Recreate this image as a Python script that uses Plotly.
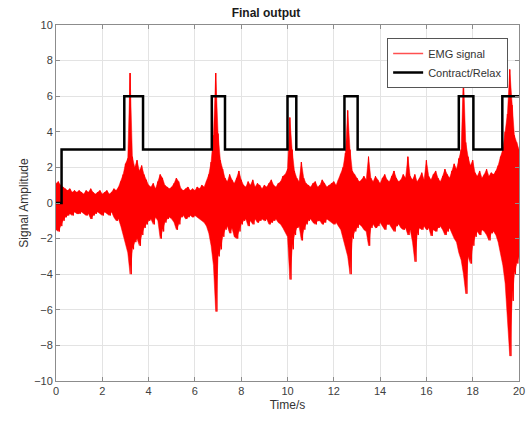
import plotly.graph_objects as go

# ---------------- data ----------------
# EMG envelope sampled every 0.1 s (t = 0.0 ... 20.0)
emg_t0 = 0.0
emg_dt = 0.1
emg_upper = [
    1.1, 1.2, 1.0,
    0.9, 0.8, 0.7, 0.8, 0.6, 0.7, 0.6, 0.7,
    0.6, 0.5, 0.7, 0.6, 0.8, 0.6, 0.5, 0.6, 0.7, 0.5,
    0.6, 0.7, 0.5, 0.6, 0.8, 0.7, 0.9, 1.2, 1.6,
    2.2, 2.5, 7.3, 2.6, 2.0, 2.4, 1.8, 2.1, 1.6, 1.3,
    1.0, 0.9, 1.1, 0.8, 1.2, 1.6, 1.4, 1.0, 0.9, 0.8,
    0.9, 1.1, 1.4, 1.2, 0.8, 0.7, 0.8, 0.9, 0.7, 0.8,
    0.7, 0.9, 0.8, 1.0, 0.9, 1.2, 1.6, 2.3, 3.8, 7.3,
    3.9, 2.4, 1.9, 1.4, 1.2, 1.6, 1.3, 1.1, 1.4, 1.8,
    1.3, 1.0, 0.9, 1.2, 1.0, 1.3, 0.9, 1.1, 1.0, 0.8,
    1.0, 0.9, 1.1, 1.3, 1.0, 0.9, 1.1, 1.2, 1.5, 1.6,
    1.9, 4.8, 3.0, 1.8, 1.4, 1.2, 2.3, 1.4, 1.1, 1.0,
    0.9, 1.1, 1.2, 0.9, 1.0, 1.3, 1.1, 0.9, 1.0, 1.1,
    1.2, 1.0, 1.3, 1.6, 2.0, 2.8, 5.2, 3.0, 1.8, 1.6,
    1.4, 1.2, 1.3, 1.5, 1.3, 2.6, 1.4, 1.2, 1.5, 1.3,
    1.1, 1.4, 1.6, 1.3, 1.2, 1.5, 1.8, 1.4, 1.2, 1.3,
    1.6, 1.4, 2.6, 1.5, 1.3, 1.6, 1.2, 1.4, 1.7, 1.3,
    2.4, 1.5, 1.3, 1.6, 1.8, 1.4, 1.2, 1.5, 1.9, 1.6,
    1.4, 1.8, 2.2, 1.9, 2.5, 3.0, 7.2, 3.4, 2.6, 2.1,
    2.4, 1.7, 1.5, 1.8, 1.4, 1.6, 1.9, 1.5, 1.7, 1.6,
    1.8, 2.1, 2.6, 3.0, 4.0, 5.0, 7.5, 5.5, 3.8, 3.4,
    3.0,
]
emg_lower = [
    -1.5, -1.6, -1.3,
    -1.0, -0.8, -0.7, -0.6, -0.7, -0.5, -0.6, -0.6,
    -0.5, -0.6, -0.7, -0.6, -0.9, -0.7, -0.6, -0.5, -0.6, -0.7,
    -0.5, -0.6, -0.7, -0.5, -0.8, -1.0, -0.9, -1.3, -1.8,
    -2.2, -2.8, -4.0, -2.6, -2.2, -2.0, -2.4, -1.8, -1.4, -1.2,
    -1.0, -0.9, -1.2, -0.8, -1.0, -2.0, -1.6, -1.1, -0.9, -0.8,
    -0.9, -1.1, -1.5, -1.2, -0.8, -0.7, -0.9, -0.8, -0.7, -0.8,
    -0.7, -0.8, -0.9, -1.0, -1.1, -1.3, -1.7, -2.4, -3.5, -6.1,
    -3.0, -2.6, -1.9, -1.5, -1.3, -1.7, -1.4, -1.9, -2.0, -1.6,
    -1.2, -1.0, -0.9, -1.3, -1.0, -1.2, -0.9, -1.1, -1.0, -0.9,
    -1.0, -0.9, -1.2, -1.1, -1.0, -0.9, -1.1, -1.2, -1.4, -1.6,
    -1.9, -4.3, -2.6, -1.8, -1.4, -1.3, -2.1, -1.5, -1.2, -1.0,
    -0.9, -1.1, -1.2, -1.0, -1.0, -1.2, -1.1, -0.9, -1.0, -1.1,
    -1.2, -1.1, -1.3, -1.5, -1.9, -2.5, -3.0, -4.0, -2.0, -1.6,
    -1.4, -1.2, -1.3, -1.5, -1.6, -2.4, -1.4, -1.2, -1.4, -1.3,
    -1.1, -1.3, -1.5, -1.2, -1.2, -1.4, -1.6, -1.3, -1.2, -1.4,
    -1.5, -1.4, -1.8, -1.5, -2.2, -3.3, -1.8, -1.4, -1.5, -1.3,
    -1.5, -1.4, -1.85, -1.5, -1.6, -1.4, -1.3, -1.5, -1.8, -1.6,
    -1.4, -1.7, -2.0, -2.2, -2.8, -3.2, -4.0, -5.1, -3.0, -3.4,
    -2.4, -1.9, -1.6, -1.8, -1.5, -1.6, -1.8, -2.1, -1.7, -1.6,
    -1.8, -2.2, -2.8, -3.5, -4.5, -6.2, -8.6, -5.5, -4.0, -3.4,
    -3.0,
]

# Contract / Relax step signal (level holds until next time)
cr_time = [0, 0.24, 2.95, 3.76, 6.73, 7.30, 10.00, 10.38, 12.46, 13.03, 17.40, 18.03, 19.28, 20.0]
cr_level = [0, 3, 6, 3, 6, 3, 6, 3, 6, 3, 6, 3, 6, 6]

x_ticks = [0, 2, 4, 6, 8, 10, 12, 14, 16, 18, 20]
y_ticks = [-10, -8, -6, -4, -2, 0, 2, 4, 6, 8, 10]

# ---------------- build EMG traces ----------------
emg_times = [emg_t0 + i * emg_dt for i in range(len(emg_upper))]

# solid band between the envelopes
band_x = emg_times + emg_times[::-1]
band_y = emg_upper + emg_lower[::-1]

# alternating line between the envelopes for the ragged texture
emg_x, emg_y = [], []
for i, (u, l) in enumerate(zip(emg_upper, emg_lower)):
    t = emg_times[i]
    emg_x.append(t)
    emg_y.append(u)
    if i < len(emg_upper) - 1:
        emg_x.append(t + emg_dt / 2)
        emg_y.append(l)

fig = go.Figure()
fig.add_trace(go.Scatter(
    x=band_x, y=band_y, mode="lines", fill="toself",
    fillcolor="#ff0000", line=dict(color="#ff0000", width=0.5),
    showlegend=False, hoverinfo="skip",
))
fig.add_trace(go.Scatter(
    x=emg_x, y=emg_y, mode="lines", showlegend=False,
    line=dict(color="#ff0000", width=1),
))
# legend entry for the EMG signal
fig.add_trace(go.Scatter(
    x=[None], y=[None], mode="lines", name="EMG signal",
    line=dict(color="#ff5050", width=1.5),
))
fig.add_trace(go.Scatter(
    x=cr_time, y=cr_level, mode="lines", name="Contract/Relax",
    line=dict(color="#000000", width=2.5, shape="hv"),
))

axis_common = dict(
    showline=True, linecolor="#8c8c8c", linewidth=1, mirror="ticks",
    ticks="inside", ticklen=4, tickcolor="#8c8c8c",
    showgrid=True, gridcolor="#e3e3e3", gridwidth=1,
    zeroline=False,
    tickfont=dict(family="Liberation Sans, Arial", size=11, color="#404040"),
)

fig.update_layout(
    width=532, height=426,
    margin=dict(l=56, r=7, t=25, b=45),
    paper_bgcolor="white", plot_bgcolor="white",
    title=dict(text="<b>Final output</b>", x=0.5, xanchor="center",
               y=1 - 13 / 426, yanchor="middle",
               font=dict(family="Liberation Sans, Arial", size=12, color="#1a1a1a")),
    xaxis=dict(range=[0, 20], tickvals=x_ticks,
               title=dict(text="Time/s", standoff=4,
                          font=dict(family="Liberation Sans, Arial", size=12, color="#333333")),
               **axis_common),
    yaxis=dict(range=[-10, 10], tickvals=y_ticks,
               title=dict(text="Signal Amplitude", standoff=2,
                          font=dict(family="Liberation Sans, Arial", size=12, color="#333333")),
               **axis_common),
    legend=dict(x=(514 - 56) / 469, y=(381 - 38) / 356, xanchor="right", yanchor="top",
                bgcolor="white", bordercolor="#555555", borderwidth=1,
                font=dict(family="Liberation Sans, Arial", size=11, color="#333333"),
                tracegroupgap=0),
    showlegend=True,
)

fig.write_html("out.html")
